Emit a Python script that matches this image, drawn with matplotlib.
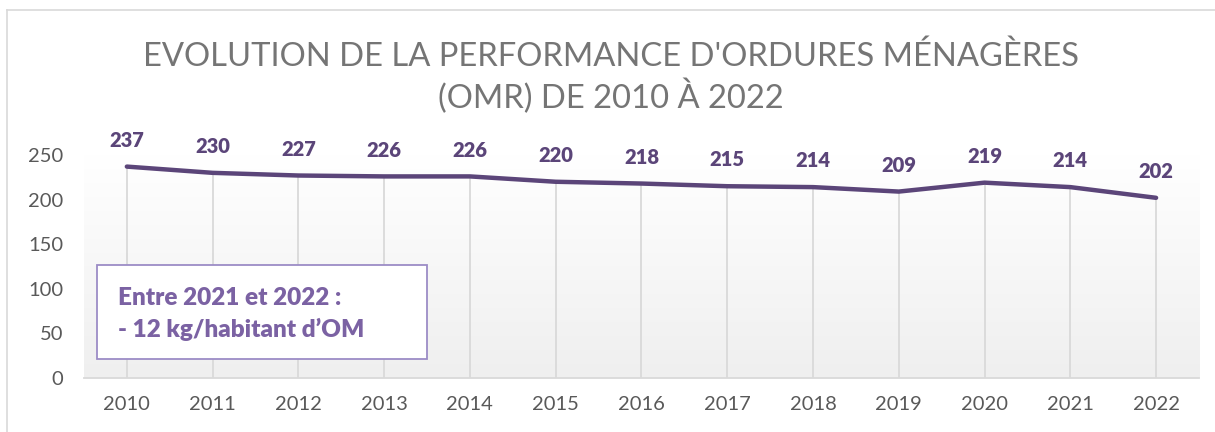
import numpy as np
import matplotlib.pyplot as plt
from matplotlib.lines import Line2D
from matplotlib.patches import Rectangle
from matplotlib.colors import LinearSegmentedColormap

years = ['2010', '2011', '2012', '2013', '2014', '2015', '2016',
         '2017', '2018', '2019', '2020', '2021', '2022']
omr = [237, 230, 227, 226, 226, 220, 218, 215, 214, 209, 219, 214, 202]
y_ticks = [0, 50, 100, 150, 200, 250]

title = "EVOLUTION DE LA PERFORMANCE D'ORDURES MÉNAGÈRES\n(OMR) DE 2010 À 2022"
note = "Entre 2021 et 2022 :\n- 12 kg/habitant d\u2019OM"

plt.rcParams['font.family'] = ['Lato', 'DejaVu Sans']

line_col = '#5b4579'
note_col = '#7b62a3'
grey_txt = '#595959'

fig = plt.figure(figsize=(12.15, 4.32), dpi=100)
ax = fig.add_axes([0.0691, 0.125, 0.9177, 0.5162])

x = np.arange(len(years))
ax.set_xlim(-0.5, len(years) - 0.5)
ax.set_ylim(0, 250)

# soft gradient background of the plot area
bg = LinearSegmentedColormap.from_list('bg', ['#efefef', '#ffffff'])
grad = np.linspace(1.0, 0.0, 256).reshape(-1, 1)
ax.imshow(grad, extent=(-0.5, len(years) - 0.5, 0, 250), aspect='auto',
          cmap=bg, origin='upper', zorder=0)

# drop lines
ax.vlines(x, 0, omr, color='#d9d9d9', lw=1.3, zorder=1)
ax.plot(x, omr, color=line_col, lw=3.2, solid_capstyle='round', zorder=3)

for xi, v in zip(x, omr):
    ax.annotate(str(v), (xi, v), xytext=(0, 19), textcoords='offset points',
                ha='center', va='center', fontsize=14.5, fontweight='heavy',
                color=line_col, annotation_clip=False)

ax.set_xticks(x)
ax.set_xticklabels(years, fontsize=14.5, color=grey_txt)
ax.set_yticks(y_ticks)
ax.set_yticklabels([str(t) for t in y_ticks], fontsize=14.5, color=grey_txt)
ax.tick_params(length=0, pad=13)
ax.tick_params(axis='y', pad=15)
for s in ['top', 'right', 'left']:
    ax.spines[s].set_visible(False)
ax.spines['bottom'].set_color('#d9d9d9')
ax.spines['bottom'].set_linewidth(1.3)

# note box
fig.add_artist(Rectangle((97 / 1215, 1 - 359 / 432), 330 / 1215, 94 / 432,
                         transform=fig.transFigure, facecolor='white',
                         edgecolor='#9c8cc6', lw=1.3, zorder=5))
fig.text(118 / 1215, 1 - 314 / 432, note, fontsize=17.5, fontweight='heavy',
         color=note_col, ha='left', va='center', linespacing=1.45, zorder=6)

fig.text(0.503, 1 - 78 / 432, title, ha='center', va='center',
         fontsize=23.6, color='#757575', linespacing=1.25)

# chart frame
fig.add_artist(Line2D([7 / 1215, 7 / 1215], [0, 1 - 10 / 432],
                      transform=fig.transFigure, color='#d9d9d9', lw=1.2))
fig.add_artist(Line2D([7 / 1215, 1], [1 - 10 / 432, 1 - 10 / 432],
                      transform=fig.transFigure, color='#d9d9d9', lw=1.2))

fig.savefig('out.png', dpi=100)
